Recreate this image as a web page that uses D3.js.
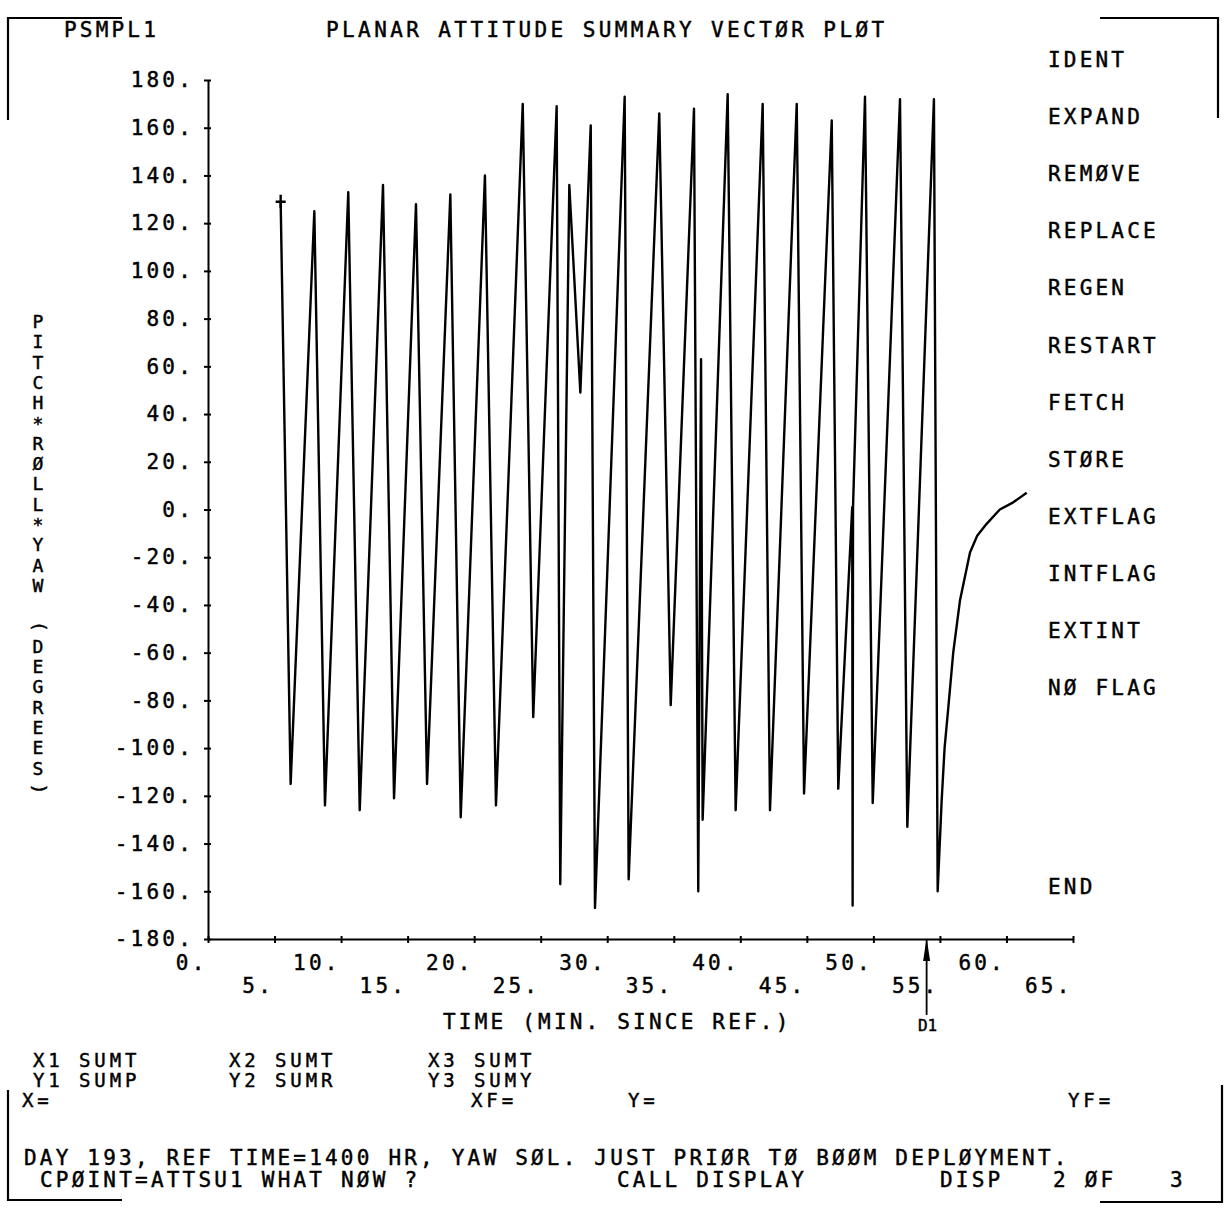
<!DOCTYPE html>
<html>
<head>
<meta charset="utf-8">
<script src="https://cdn.jsdelivr.net/npm/d3@7"></script>
<style>
  body { margin: 0; background: #fff; }
  text { font-family: "DejaVu Sans Mono", "Liberation Mono", monospace; fill: #000; stroke: #000; stroke-width: 0.45px; }
</style>
</head>
<body>
<div id="chart"></div>
<script>
// data
const timeMin = [5.46, 6.21, 7.99, 8.79, 10.54, 11.40, 13.15, 13.98, 15.63, 16.46, 18.21, 18.99,
  20.81, 21.64, 23.65, 24.44, 26.20, 26.47, 27.15, 27.98, 28.76, 29.08, 31.31, 31.61, 33.91,
  34.77, 36.52, 36.84, 37.05, 37.17, 39.05, 39.65, 41.68, 42.23, 44.24, 44.79, 46.87, 47.36,
  48.41, 48.44, 48.47, 49.37, 49.95, 52.00, 52.55, 54.55, 54.83, 55.13, 55.35, 55.63, 56.0,
  56.51, 57.26, 57.8, 58.51, 59.5, 60.51, 61.52];
const attitudeDeg = [129, -115, 125, -124, 133, -126, 136, -121, 128, -115, 132, -129,
  140, -124, 170, -87, 169, -157, 136, 49, 161, -167, 173, -155, 166,
  -82, 168, -160, 63, -130, 174, -126, 170, -126, 170, -119, 163, -117,
  1, -166, 1, 173, -123, 172, -133, 172, -160, -122, -100, -83, -60,
  -38, -18, -11, -6, 0, 3, 7];

const xTickValues = [0, 5, 10, 15, 20, 25, 30, 35, 40, 45, 50, 55, 60, 65];
const yTickValues = [180, 160, 140, 120, 100, 80, 60, 40, 20, 0, -20, -40, -60, -80, -100, -120, -140, -160, -180];

const eventTimes = [54.0];
const eventNames = ["D1"];

const menuItems = ["IDENT", "EXPAND", "REM\u00D8VE", "REPLACE", "REGEN", "RESTART", "FETCH",
  "ST\u00D8RE", "EXTFLAG", "INTFLAG", "EXTINT", "N\u00D8 FLAG"];

const yTitle = "PITCH*R\u00D8LL*YAW (DEGREES)";

//Visualisation
const W = 1230, H = 1211;
const margin = { top: 80, left: 208 };
const width = 865;
const height = 859;
const FS = 21;
const LS = "3.2px";

const svg = d3.select("#chart").append("svg")
  .attr("width", W)
  .attr("height", H);

svg.append("rect").attr("width", W).attr("height", H).attr("fill", "#fff");

const x = d3.scaleLinear().domain([0, 65]).range([0, width]);
const y = d3.scaleLinear().domain([-180, 180]).range([height, 0]);

const g = svg.append("g").attr("transform", `translate(${margin.left},${margin.top})`);

// axe Y
g.append("g")
  .call(d3.axisLeft(y).tickValues(yTickValues).tickFormat(d => d + ".")
    .tickSizeInner(4).tickSizeOuter(0).tickPadding(10))
  .call(a => {
    a.attr("font-family", null).attr("font-size", FS);
    a.select(".domain").attr("stroke", "#000").attr("stroke-width", 2);
    a.selectAll(".tick line").attr("x1", 3).attr("x2", -4).attr("stroke-width", 2);
    a.selectAll(".tick text").style("letter-spacing", LS);
  });

// axe X (labels on two rows)
g.append("g")
  .attr("transform", `translate(0,${height})`)
  .call(d3.axisBottom(x).tickValues(xTickValues).tickFormat(d => d + ".")
    .tickSizeInner(4).tickSizeOuter(0))
  .call(a => {
    a.attr("font-family", null).attr("font-size", FS);
    a.select(".domain").attr("stroke", "#000").attr("stroke-width", 2);
    a.selectAll(".tick line").attr("y1", -3).attr("y2", 4).attr("stroke-width", 2);
    a.selectAll(".tick text")
      .attr("text-anchor", "end")
      .attr("x", -1)
      .attr("dy", null)
      .attr("y", d => (d % 10 === 0 ? 31 : 54))
      .style("letter-spacing", LS);
  });

// la courbe
const points = timeMin.map((t, i) => ({ t: t, v: attitudeDeg[i] }));
const line = d3.line().x(d => x(d.t)).y(d => y(d.v));

g.append("path")
  .datum(points)
  .attr("fill", "none")
  .attr("stroke", "#000")
  .attr("stroke-width", 2.4)
  .attr("stroke-linejoin", "round")
  .attr("d", line);

// marqueur de depart
const p0 = points[0];
g.append("path")
  .attr("d", `M${x(p0.t) - 5},${y(p0.v)}H${x(p0.t) + 5}M${x(p0.t)},${y(p0.v) - 7}V${y(p0.v) + 6}`)
  .attr("stroke", "#000")
  .attr("stroke-width", 2.4);

// fleche D1
eventTimes.forEach((t, i) => {
  const ex = x(t);
  g.append("line")
    .attr("x1", ex).attr("x2", ex)
    .attr("y1", height).attr("y2", height + 76)
    .attr("stroke", "#000").attr("stroke-width", 1.8);
  g.append("path")
    .attr("d", `M${ex},${height - 1}L${ex - 3.5},${height + 22}L${ex + 3.5},${height + 22}Z`)
    .attr("fill", "#000");
  g.append("text")
    .attr("x", ex + 1)
    .attr("y", height + 92)
    .attr("text-anchor", "middle")
    .attr("font-size", 16)
    .text(eventNames[i]);
});

// titres
function label(txt, tx, ty, size, ls) {
  return svg.append("text")
    .attr("x", tx).attr("y", ty)
    .attr("font-size", size || FS)
    .style("letter-spacing", ls || LS)
    .style("white-space", "pre")
    .text(txt);
}

label("PSMPL1", 64, 37);
label("PLANAR ATTITUDE SUMMARY VECT\u00D8R PL\u00D8T", 326, 37, FS, "3.4px");
label("TIME (MIN. SINCE REF.)", 443, 1029);

// titre Y, lettres empilees
yTitle.split("").forEach((c, i) => {
  const cy = 322 + i * 20.3;
  const t = svg.append("text")
    .attr("x", 38).attr("y", cy + 6)
    .attr("text-anchor", "middle")
    .attr("font-size", 18)
    .text(c);
  if (c === "(" || c === ")") t.attr("transform", `rotate(90,38,${cy})`).attr("y", cy + 5);
});

// menu de droite
menuItems.forEach((m, i) => label(m, 1048, 67 + i * 57.1));
label("END", 1048, 894);

// bas de page
const small = 19, smallLS = "3.9px";
label("X1 SUMT", 33, 1067, small, smallLS);
label("X2 SUMT", 229, 1067, small, smallLS);
label("X3 SUMT", 428, 1067, small, smallLS);
label("Y1 SUMP", 33, 1087, small, smallLS);
label("Y2 SUMR", 229, 1087, small, smallLS);
label("Y3 SUMY", 428, 1087, small, smallLS);
label("X=", 22, 1107, small, smallLS);
label("XF=", 471, 1107, small, smallLS);
label("Y=", 628, 1107, small, smallLS);
label("YF=", 1068, 1107, small, smallLS);
label("DAY 193, REF TIME=1400 HR, YAW S\u00D8L. JUST PRI\u00D8R T\u00D8 B\u00D8\u00D8M DEPL\u00D8YMENT.", 24, 1165, FS, "3.2px");
label("CP\u00D8INT=ATTSU1 WHAT N\u00D8W ?", 40, 1187);
label("CALL DISPLAY", 617, 1187);
label("DISP", 940, 1187);
label("2 \u00D8F", 1053, 1187);
label("3", 1170, 1187);

// cadre (coins)
const frame = [
  "M122,18H8V120",
  "M1100,18H1218V118",
  "M8,1090V1200H122",
  "M1100,1202H1222V1085"
];
svg.selectAll(".frame").data(frame).enter().append("path")
  .attr("class", "frame")
  .attr("d", d => d)
  .attr("fill", "none")
  .attr("stroke", "#000")
  .attr("stroke-width", 2.2);
</script>
</body>
</html>
